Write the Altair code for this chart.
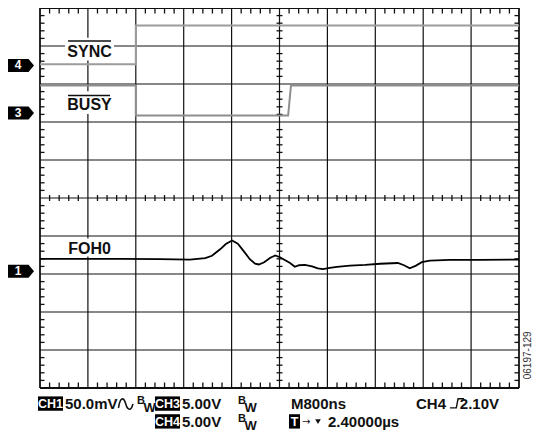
import altair as alt
import pandas as pd

# ---------------- data, in screen divisions (x: 0..10 left->right, y: 0..10 bottom->top)
major_x = [1, 2, 3, 4, 5, 6, 7, 8, 9]
major_y = [1, 2, 3, 4, 5, 6, 7, 8, 9]
border_x = [0, 10]
border_y = [0, 10]
minor_pos = [0.2, 0.4, 0.6, 0.8, 1.2, 1.4, 1.6, 1.8, 2.2, 2.4, 2.6, 2.8, 3.2, 3.4, 3.6, 3.8,
             4.2, 4.4, 4.6, 4.8, 5.2, 5.4, 5.6, 5.8, 6.2, 6.4, 6.6, 6.8, 7.2, 7.4, 7.6, 7.8,
             8.2, 8.4, 8.6, 8.8, 9.2, 9.4, 9.6, 9.8]

# CH4 (SYNC) trace
sync_x = [0.0, 2.0, 2.0, 10.0]
sync_y = [8.52, 8.52, 9.54, 9.54]

# CH3 (BUSY) trace
busy_x = [0.0, 2.0, 2.0, 5.18, 5.24, 10.0]
busy_y = [7.96, 7.96, 7.17, 7.17, 7.96, 7.96]

# CH1 (FOH0) trace
foh0_x = [0.00, 0.84, 1.67, 2.51, 3.13, 3.45, 3.59, 3.76, 3.88, 4.01,
          4.13, 4.26, 4.38, 4.49, 4.57, 4.68, 4.80, 4.91, 5.01, 5.12,
          5.22, 5.32, 5.41, 5.53, 5.68, 5.80, 5.91, 6.05, 6.20, 6.47,
          6.79, 7.10, 7.47, 7.60, 7.72, 7.85, 7.97, 8.14, 8.56, 9.19, 10.00]
foh0_y = [3.40, 3.40, 3.40, 3.39, 3.38, 3.42, 3.48, 3.65, 3.79, 3.88,
          3.80, 3.59, 3.39, 3.27, 3.25, 3.31, 3.42, 3.49, 3.44, 3.36,
          3.29, 3.19, 3.23, 3.24, 3.20, 3.15, 3.13, 3.16, 3.19, 3.22,
          3.24, 3.27, 3.29, 3.23, 3.15, 3.22, 3.31, 3.35, 3.37, 3.37, 3.38]

marker_labels = ["4", "3", "1"]
marker_levels = [8.49, 7.24, 3.07]

trace_labels = ["SYNC", "BUSY", "FOH0"]
footer_row1 = ["50.0mV", "5.00V", "M800ns", "CH4"]
footer_row2 = ["5.00V", "2.40000µs"]
footer_right = ["2.10V"]
footer_boxes = ["CH1", "CH3", "CH4", "T"]
figure_id = "06197-129"

# ---------------- helpers (reference pixel -> division units)
def gx(px):
    return (px - 40) / 47.9

def gy(py):
    return (388 - py) / 38.4

xs = alt.Scale(domain=[0, 10], nice=False, zero=False)
ys = alt.Scale(domain=[0, 10], nice=False, zero=False)

def X(f):
    return alt.X(f, type="quantitative", scale=xs, axis=None)

def Y(f):
    return alt.Y(f, type="quantitative", scale=ys, axis=None)

FONT = "Liberation Sans"
INK = "#111111"

layers = []

# graticule
layers.append(alt.Chart(pd.DataFrame({"x": major_x})).mark_rule(color=INK, strokeWidth=1.2).encode(x=X("x")))
layers.append(alt.Chart(pd.DataFrame({"y": major_y})).mark_rule(color=INK, strokeWidth=1.2).encode(y=Y("y")))
layers.append(alt.Chart(pd.DataFrame({"x": border_x})).mark_rule(color=INK, strokeWidth=1.8).encode(x=X("x")))
layers.append(alt.Chart(pd.DataFrame({"y": border_y})).mark_rule(color=INK, strokeWidth=1.8).encode(y=Y("y")))

# minor graticule ticks (every 1/5 division)
TLX = 5.5 / 38.0   # tick length expressed along y
TLY = 4.5 / 47.9   # tick length expressed along x
CY = 3 / 38.0
CX = 3 / 47.9

tick_rows = []
for p in minor_pos:
    tick_rows.append({"ta": p, "tb": p, "ua": 10.0, "ub": 10.0 - TLX})      # top border
    tick_rows.append({"ta": p, "tb": p, "ua": 0.0, "ub": TLX})              # bottom border
    tick_rows.append({"ta": p, "tb": p, "ua": 5.0 - CY, "ub": 5.0 + CY})    # centre horizontal
    tick_rows.append({"ta": 0.0, "tb": TLY, "ua": p, "ub": p})              # left border
    tick_rows.append({"ta": 10.0, "tb": 10.0 - TLY, "ua": p, "ub": p})      # right border
    tick_rows.append({"ta": 5.0 - CX, "tb": 5.0 + CX, "ua": p, "ub": p})    # centre vertical
ticks = pd.DataFrame(tick_rows)
layers.append(alt.Chart(ticks).mark_rule(color=INK, strokeWidth=1.3, opacity=1)
              .encode(x=X("ta"), x2=alt.X2("tb"), y=Y("ua"), y2=alt.Y2("ub")))

# white label boxes
boxes = pd.DataFrame({
    "x": [gx(65), gx(65), gx(63)], "x2": [gx(114), gx(114), gx(115)],
    "y": [gy(34), gy(88), gy(237)], "y2": [gy(57), gy(111), gy(255)],
})
layers.append(alt.Chart(boxes).mark_rect(color="white").encode(x=X("x"), x2=alt.X2("x2"), y=Y("y"), y2=alt.Y2("y2")))

# trace labels
labels = pd.DataFrame({"x": [gx(89.5)] * 3, "y": [gy(53.3), gy(107.3), gy(253)], "t": trace_labels})
layers.append(alt.Chart(labels).mark_text(font=FONT, fontWeight="bold", fontSize=16, color=INK,
                                          align="center", baseline="alphabetic")
              .encode(x=X("x"), y=Y("y"), text="t:N"))
overlines = pd.DataFrame({"x": [gx(68), gx(68)], "x2": [gx(111), gx(110)], "y": [gy(37.3), gy(92.3)]})
layers.append(alt.Chart(overlines).mark_rule(color=INK, strokeWidth=1.5).encode(x=X("x"), x2=alt.X2("x2"), y=Y("y")))

# traces
def trace(xv, yv, color, width):
    df = pd.DataFrame({"x": xv, "y": yv, "i": list(range(len(xv)))})
    return alt.Chart(df).mark_line(color=color, strokeWidth=width).encode(x=X("x"), y=Y("y"), order="i:Q")

layers.append(trace(sync_x, sync_y, "#9c9c9c", 2))
layers.append(trace(busy_x, busy_y, "#8e8e8e", 2))
layers.append(trace(foh0_x, foh0_y, "#000000", 1.8))

# channel markers
mk = pd.DataFrame({"x": [gx(21)] * 3, "y": marker_levels, "t": marker_labels, "tx": [gx(18)] * 3})
layers.append(alt.Chart(mk).mark_point(shape="M-1,-0.5 L0.58,-0.5 L1,0 L0.58,0.5 L-1,0.5 Z",
                                       size=676, filled=True, color="#000000", opacity=1, strokeWidth=0)
              .encode(x=X("x"), y=Y("y")))
layers.append(alt.Chart(mk).mark_text(font=FONT, fontWeight="bold", fontSize=12, color="white",
                                      align="center", baseline="middle")
              .encode(x=X("tx"), y=Y("y"), text="t:N"))

# footer
r1, r2 = 409, 427
fb = pd.DataFrame({
    "x": [gx(38), gx(155), gx(155), gx(289)], "x2": [gx(63), gx(180), gx(180), gx(300)],
    "y": [gy(r1 - 12.5), gy(r1 - 12.5), gy(r2 - 12.5), gy(r2 - 12.5)],
    "y2": [gy(r1 + 2), gy(r1 + 2), gy(r2 + 2), gy(r2 + 2)],
    "tx": [gx(50.5), gx(167.5), gx(167.5), gx(294.5)],
    "ty": [gy(r1 - 0.5), gy(r1 - 0.5), gy(r2 - 0.5), gy(r2 - 0.5)],
    "t": footer_boxes,
})
layers.append(alt.Chart(fb).mark_rect(color="#000000").encode(x=X("x"), x2=alt.X2("x2"), y=Y("y"), y2=alt.Y2("y2")))
layers.append(alt.Chart(fb).mark_text(font=FONT, fontWeight="bold", fontSize=12.5, color="white",
                                      align="center", baseline="alphabetic")
              .encode(x=X("tx"), y=Y("ty"), text="t:N"))

ft = pd.DataFrame({
    "x": [gx(65), gx(182), gx(291), gx(416), gx(182), gx(328)],
    "y": [gy(r1)] * 4 + [gy(r2)] * 2,
    "t": footer_row1 + footer_row2,
})
layers.append(alt.Chart(ft).mark_text(font=FONT, fontWeight="bold", fontSize=15, color=INK,
                                      align="left", baseline="alphabetic")
              .encode(x=X("x"), y=Y("y"), text="t:N"))
fr = pd.DataFrame({"x": [gx(499)], "y": [gy(r1)], "t": footer_right})
layers.append(alt.Chart(fr).mark_text(font=FONT, fontWeight="bold", fontSize=15, color=INK,
                                      align="right", baseline="alphabetic")
              .encode(x=X("x"), y=Y("y"), text="t:N"))

# bandwidth-limit marks (B superscript, W subscript)
bw_b = pd.DataFrame({"x": [gx(137), gx(238), gx(238)], "y": [gy(r1 - 5), gy(r1 - 5), gy(r2 - 5)], "t": ["B"] * 3})
bw_w = pd.DataFrame({"x": [gx(143.5), gx(244.5), gx(244.5)], "y": [gy(r1 + 3), gy(r1 + 3), gy(r2 + 3)], "t": ["W"] * 3})
layers.append(alt.Chart(bw_b).mark_text(font=FONT, fontWeight="bold", fontSize=11, color=INK,
                                        align="left", baseline="alphabetic").encode(x=X("x"), y=Y("y"), text="t:N"))
layers.append(alt.Chart(bw_w).mark_text(font=FONT, fontWeight="bold", fontSize=13, color=INK,
                                        align="left", baseline="alphabetic").encode(x=X("x"), y=Y("y"), text="t:N"))

# coupling (sine) symbol, trigger edge symbol, arrow and trigger-position triangle
sym = pd.DataFrame({"x": [gx(126.5)], "y": [gy(r1 - 5)]})
layers.append(alt.Chart(sym).mark_point(shape="M-1,0.5 C-0.8,-0.9 -0.35,-0.9 -0.1,0 C0.15,0.9 0.6,0.9 0.8,0",
                                        size=256, filled=False, color=INK, strokeWidth=1.6, opacity=1)
              .encode(x=X("x"), y=Y("y")))
edge = pd.DataFrame({"x": [gx(457)], "y": [gy(r1 - 5.5)]})
layers.append(alt.Chart(edge).mark_point(shape="M-1,0.65 L-0.1,0.65 L0.15,-0.65 L1,-0.65",
                                         size=196, filled=False, color=INK, strokeWidth=1.4, opacity=1)
              .encode(x=X("x"), y=Y("y")))
arr = pd.DataFrame({"x": [gx(302)], "y": [gy(r2 - 2)], "t": ["→"]})
layers.append(alt.Chart(arr).mark_text(font="DejaVu Sans", fontSize=10, color=INK, align="left",
                                       baseline="alphabetic").encode(x=X("x"), y=Y("y"), text="t:N"))
tri = pd.DataFrame({"x": [gx(318)], "y": [gy(r2 - 5)]})
layers.append(alt.Chart(tri).mark_point(shape="triangle-down", size=32, filled=True, color=INK, opacity=1)
              .encode(x=X("x"), y=Y("y")))

# figure id
fid = pd.DataFrame({"x": [gx(528)], "y": [gy(355)], "t": [figure_id]})
layers.append(alt.Chart(fid).mark_text(font=FONT, fontSize=10, color="#333333", angle=270,
                                       align="center", baseline="middle")
              .encode(x=X("x"), y=Y("y"), text="t:N"))

chart = alt.layer(*layers).properties(
    width=479, height=380,
    autosize=alt.AutoSizeParams(type="none"),
    padding={"left": 32, "top": 0, "right": 15, "bottom": 44},
    background="white",
).configure_view(stroke=None)

chart.save("out.html", embed_options={"renderer": "svg", "actions": False})
